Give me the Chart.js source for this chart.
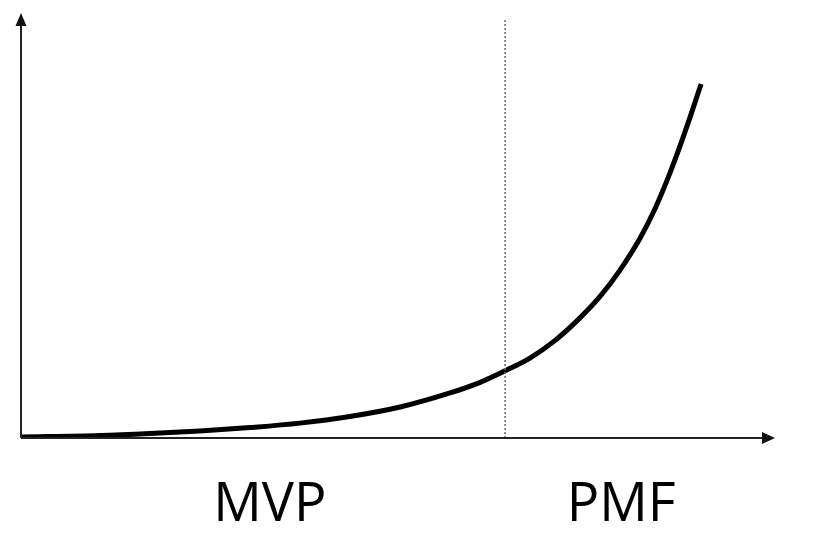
<!DOCTYPE html>
<html>
<head>
<meta charset="utf-8">
<script src="https://cdn.jsdelivr.net/npm/chart.js@4/dist/chart.umd.min.js"></script>
<style>
  html, body { margin: 0; padding: 0; background: #ffffff; }
  #wrap { width: 828px; height: 541px; }
</style>
</head>
<body>
<div id="wrap"><canvas id="c" width="828" height="541"></canvas></div>
<script>
// Curve values (x: stage progress 0-100, y: growth 0-100)
const curveX = [0, 10.5, 17.1, 23.7, 30.4, 37.0, 43.6, 50.3, 56.9, 60.9, 64.2, 67.5, 70.8, 74.1, 76.8, 79.4, 82.1, 84.1, 86.1, 88.1, 90.2];
const curveY = [0.24, 0.6, 1.06, 1.65, 2.47, 3.5, 5.06, 7.3, 10.6, 13.1, 15.8, 18.8, 22.9, 28.2, 33.3, 39.4, 47.0, 54.0, 62.5, 72.2, 83.3];
// Dotted divider between stages
const dividerX = [64.2, 64.2];
const dividerY = [0, 98.6];
// Stage labels under the x axis
const stageNames = ['MVP', 'PMF'];
const stagePositions = [33, 79.6];

const curvePts = curveX.map((x, i) => ({ x: x, y: curveY[i] }));
const dividerPts = dividerX.map((x, i) => ({ x: x, y: dividerY[i] }));

const axesPlugin = {
  id: 'axesArrows',
  afterDraw(chart) {
    const { ctx, chartArea: a, scales } = chart;
    ctx.save();
    ctx.strokeStyle = '#222';
    ctx.fillStyle = '#111';
    ctx.lineWidth = 2;
    // y axis
    ctx.beginPath();
    ctx.moveTo(a.left, a.bottom);
    ctx.lineTo(a.left, a.top + 12);
    ctx.stroke();
    ctx.beginPath();
    ctx.moveTo(a.left, a.top);
    ctx.lineTo(a.left - 5.5, a.top + 13);
    ctx.lineTo(a.left + 5.5, a.top + 13);
    ctx.closePath();
    ctx.fill();
    // x axis
    ctx.beginPath();
    ctx.moveTo(a.left, a.bottom);
    ctx.lineTo(a.right - 12, a.bottom);
    ctx.stroke();
    ctx.beginPath();
    ctx.moveTo(a.right, a.bottom);
    ctx.lineTo(a.right - 13, a.bottom - 6);
    ctx.lineTo(a.right - 13, a.bottom + 6);
    ctx.closePath();
    ctx.fill();
    // stage labels
    ctx.fillStyle = '#000';
    ctx.font = '54px "Open Sans", "Noto Sans", sans-serif';
    ctx.textAlign = 'center';
    ctx.textBaseline = 'alphabetic';
    stageNames.forEach((name, i) => {
      const px = scales.x.getPixelForValue(stagePositions[i]);
      ctx.fillText(name, px, a.bottom + 83);
    });
    ctx.restore();
  }
};

new Chart(document.getElementById('c'), {
  type: 'line',
  data: {
    datasets: [
      {
        data: dividerPts,
        borderColor: '#666',
        borderWidth: 1.5,
        borderDash: [2, 2],
        pointRadius: 0,
        tension: 0,
        fill: false
      },
      {
        data: curvePts,
        borderColor: '#000',
        borderWidth: 5,
        cubicInterpolationMode: 'monotone',
        pointRadius: 0,
        borderCapStyle: 'butt',
        fill: false
      }
    ]
  },
  options: {
    responsive: false,
    animation: false,
    devicePixelRatio: 1,
    layout: { padding: { left: 21, right: 53, top: 13, bottom: 103 } },
    plugins: { legend: { display: false }, tooltip: { enabled: false } },
    scales: {
      x: { type: 'linear', min: 0, max: 100, display: false },
      y: { type: 'linear', min: 0, max: 100, display: false }
    }
  },
  plugins: [axesPlugin]
});
</script>
</body>
</html>
